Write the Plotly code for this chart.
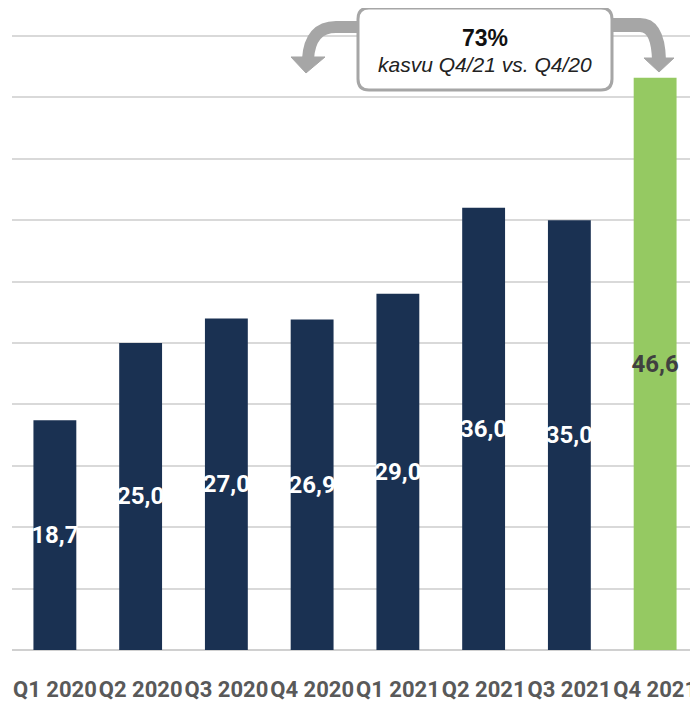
import plotly.graph_objects as go

categories = ["Q1 2020", "Q2 2020", "Q3 2020", "Q4 2020",
              "Q1 2021", "Q2 2021", "Q3 2021", "Q4 2021"]
values = [18.7, 25.0, 27.0, 26.9, 29.0, 36.0, 35.0, 46.6]
value_labels = ["18,7", "25,0", "27,0", "26,9", "29,0", "36,0", "35,0", "46,6"]
growth_title = "73%"
growth_subtitle = "kasvu Q4/21 vs. Q4/20"

NAVY = "#1a3152"
GREEN = "#95c962"
bar_colors = [NAVY] * 7 + [GREEN]
text_colors = ["#ffffff"] * 7 + ["#404040"]

# page body has an 8px default margin; figure sized to fill the rest of the window
OFF = 8
W, H = 698 - OFF, 704 - OFF
ML, MR, MT, MB = 4, 0, 23, 54
PW, PH = W - ML - MR, H - MT - MB


def px(x):
    return (x - OFF - ML) / PW


def py(y):
    return (H - MB - (y - OFF)) / PH


def pt(x, y):
    return f"{px(x):.5f},{py(y):.5f}"


COND = "Roboto, Liberation Sans, sans-serif"

fig = go.Figure(go.Bar(
    x=categories, y=values,
    marker=dict(color=bar_colors, line=dict(width=0)),
    width=0.5,
    text=value_labels,
    textposition="inside",
    insidetextanchor="middle",
    constraintext="none",
    textangle=0,
    textfont=dict(family=COND, size=24, color=text_colors, weight="bold"),
    hoverinfo="skip",
))

GRAY = "#a6a6a6"
shapes = []
# arrow shafts
shapes.append(dict(type="path", xref="paper", yref="paper",
                   path=f"M{pt(366,27)} L{pt(336,27)} Q{pt(310,27)} {pt(308,59)}",
                   line=dict(color=GRAY, width=12), fillcolor="rgba(0,0,0,0)"))
shapes.append(dict(type="path", xref="paper", yref="paper",
                   path=f"M{pt(604,25)} L{pt(640,25)} Q{pt(658,25)} {pt(659,60)}",
                   line=dict(color=GRAY, width=14), fillcolor="rgba(0,0,0,0)"))
# arrow heads
shapes.append(dict(type="path", xref="paper", yref="paper",
                   path=f"M{pt(291,57)} L{pt(325,57)} L{pt(306,73)} Z",
                   line=dict(color=GRAY, width=1), fillcolor=GRAY))
shapes.append(dict(type="path", xref="paper", yref="paper",
                   path=f"M{pt(644,58)} L{pt(674,58)} L{pt(659,72)} Z",
                   line=dict(color=GRAY, width=1), fillcolor=GRAY))
# rounded box
x0, x1, y0, y1, r = 358, 612, 8, 90, 11
box = (f"M{pt(x0+r,y0)} L{pt(x1-r,y0)} Q{pt(x1,y0)} {pt(x1,y0+r)} "
       f"L{pt(x1,y1-r)} Q{pt(x1,y1)} {pt(x1-r,y1)} "
       f"L{pt(x0+r,y1)} Q{pt(x0,y1)} {pt(x0,y1-r)} "
       f"L{pt(x0,y0+r)} Q{pt(x0,y0)} {pt(x0+r,y0)} Z")
shapes.append(dict(type="path", xref="paper", yref="paper", path=box,
                   line=dict(color=GRAY, width=3), fillcolor="#ffffff"))

annotations = [
    dict(xref="paper", yref="paper", x=px(485), y=py(38), text=f"<b>{growth_title}</b>",
         showarrow=False, font=dict(family="Liberation Sans, Arial, sans-serif", size=23, color="#111111"),
         xanchor="center", yanchor="middle"),
    dict(xref="paper", yref="paper", x=px(485), y=py(65), text=f"<i>{growth_subtitle}</i>",
         showarrow=False, font=dict(family="Liberation Sans, Arial, sans-serif", size=21, color="#222222"),
         xanchor="center", yanchor="middle"),
]

fig.update_layout(
    width=W, height=H,
    margin=dict(l=ML, r=MR, t=MT, b=MB, pad=0, autoexpand=False),
    plot_bgcolor="#ffffff", paper_bgcolor="#ffffff",
    showlegend=False,
    bargap=0.5,
    shapes=shapes,
    annotations=annotations,
    xaxis=dict(showgrid=False, showline=False, zeroline=False, automargin=False,
               tickangle=0,
               ticks="outside", ticklen=20, tickcolor="rgba(0,0,0,0)",
               tickfont=dict(family=COND, size=22, color="#595959", weight="bold")),
    yaxis=dict(range=[0, 50.4], tick0=0, dtick=5, showticklabels=False, automargin=False,
               showgrid=True, gridcolor="#d9d9d9", gridwidth=2,
               zeroline=True, zerolinecolor="#d0d0d0", zerolinewidth=2,
               showline=False, ticks=""),
)

fig.write_html("out.html")
